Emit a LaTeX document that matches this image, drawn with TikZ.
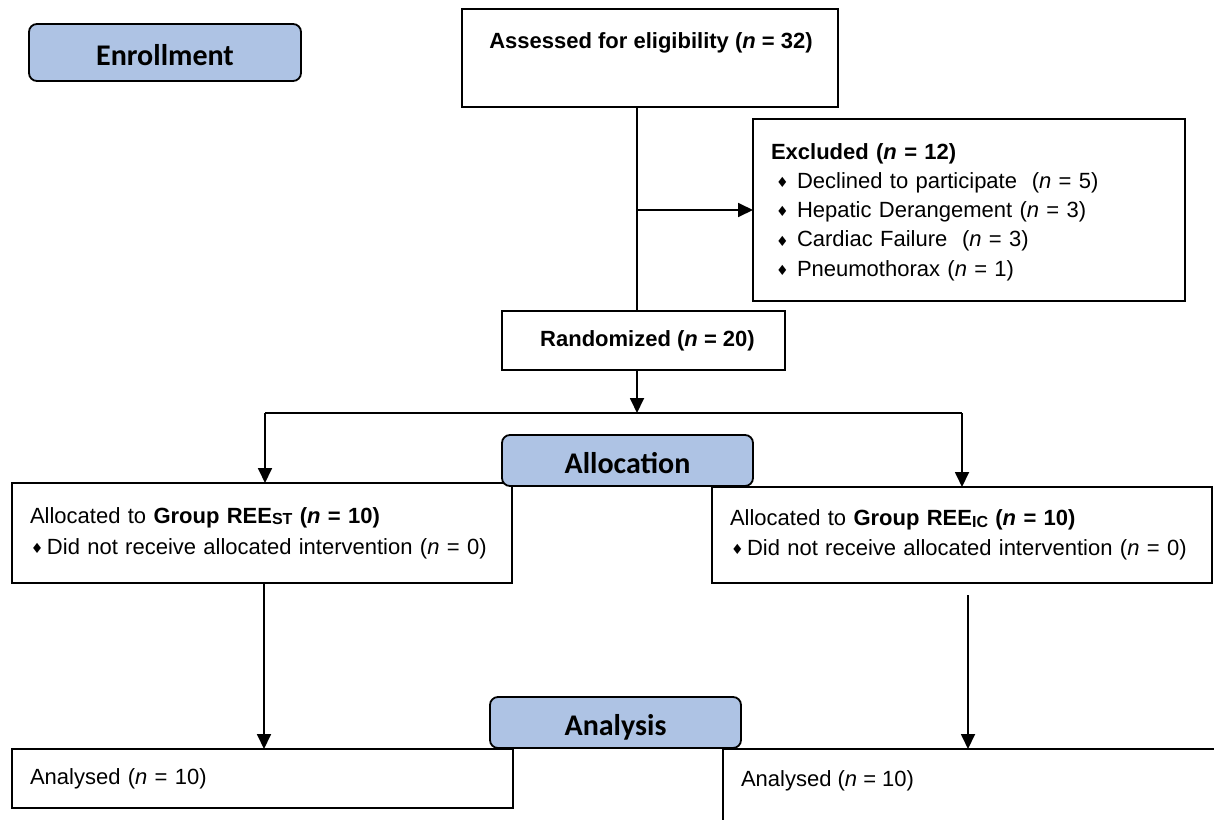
\documentclass[tikz,border=0pt]{standalone}
\usepackage{fontspec}
\setmainfont{Liberation Sans}
\newfontfamily\labelfont{Carlito}
\newfontfamily\symfont{DejaVu Sans}
\usetikzlibrary{arrows.meta}
\definecolor{stageblue}{RGB}{174,195,228}
\newcommand\dia{{\symfont\fontsize{7}{7}\selectfont\raisebox{0.4pt}{♦}}}
\newcommand\itmA[1]{\hspace*{2.5pt}\makebox[10.5pt][l]{\dia}#1}
\newcommand\itmB[1]{\hspace*{0.5pt}\makebox[8pt][l]{\dia}#1}
\newcommand\subsc[1]{{\fontsize{8}{8}\selectfont\raisebox{-0.8pt}{#1}}}
\tikzset{
  box/.style={draw, line width=0.9pt, outer sep=0pt, inner sep=0pt, font=\fontsize{11}{13}\selectfont},
  listbox/.style={box, align=left, inner xsep=9pt, inner ysep=0pt},
  stage/.style={draw, line width=0.9pt, rounded corners=4pt, fill=stageblue, outer sep=0pt, inner sep=0pt,
    text height=12.5pt, text depth=0pt,
    font=\labelfont\bfseries\fontsize{15}{18}\selectfont},
  ln/.style={line width=0.9pt},
  arr/.style={line width=0.9pt, -{Triangle[length=7.5pt,width=7pt]}},
  txt/.style={inner sep=0pt, outer sep=0pt, font=\fontsize{11}{13}\selectfont},
}
\begin{document}
\begin{tikzpicture}[x=0.5pt,y=-0.5pt]
\useasboundingbox (0,0) rectangle (1214,819);
\clip (0,0) rectangle (1214,819);

% boxes
\node[box, minimum width=188pt, minimum height=49pt] (assess) at (650,58) {};
\node[txt, font=\bfseries\fontsize{11}{13}\selectfont] (assesst) at (651,43) {Assessed for eligibility (\textit{n} = 32)};

\node[listbox, text width=198pt, minimum height=91pt, font=\fontsize{11}{14.6}\selectfont] (excl) at (969,210)
  {\rule{0pt}{10pt}\textbf{Excluded (\textit{n} = 12)}\\
   \itmA{Declined to participate\ \ (\textit{n} = 5)}\\
   \itmA{Hepatic Derangement (\textit{n} = 3)}\\
   \itmA{Cardiac Failure\ \ (\textit{n} = 3)}\\
   \itmA{Pneumothorax (\textit{n} = 1)}};

\node[box, minimum width=141.5pt, minimum height=29.5pt, font=\bfseries\fontsize{11}{13}\selectfont] (rand) at (643.5,340.5)
  {\hspace*{4pt}Randomized (\textit{n} = 20)};

\node[listbox, text width=232pt, minimum height=50pt, font=\fontsize{11}{15.5}\selectfont] (alloc1) at (262,533)
  {Allocated to \textbf{Group REE\subsc{ST} (\textit{n} = 10)}\\
   \itmB{Did not receive allocated intervention (\textit{n} = 0)}};

\node[listbox, text width=232pt, minimum height=48pt, font=\fontsize{11}{15}\selectfont] (alloc2) at (962,535)
  {Allocated to \textbf{Group REE\subsc{IC} (\textit{n} = 10)}\\
   \itmB{Did not receive allocated intervention (\textit{n} = 0)}};

\node[listbox, text width=232.5pt, minimum height=29.5pt] (ana1) at (262.5,778.5)
  {Analysed (\textit{n} = 10)};

\node[box, anchor=north west, minimum width=300pt, minimum height=50pt] (ana2) at (723,749) {};
\node[txt, anchor=west] (ana2t) at (741,781) {Analysed (\textit{n} = 10)};

% connectors
\coordinate (trunk) at (637,0);
\draw[ln] (assess.south -| trunk) -- (rand.north -| trunk);
\draw[arr] (trunk |- excl.west) -- (excl.west);
\coordinate (split) at (637,413);
\draw[arr] (rand.south -| trunk) -- (split);
\coordinate (sl) at (265,413);
\coordinate (sr) at (962,413);
\draw[ln] (sl) -- (sr);
\draw[arr] (sl) -- (sl |- alloc1.north);
\draw[arr] (sr) -- (sr |- alloc2.north);
\coordinate (dl) at (264,0);
\draw[arr] (alloc1.south -| dl) -- (ana1.north -| dl);
\coordinate (dr) at (968,595);
\draw[arr] (dr) -- (dr |- ana2.north);

% stage labels
\node[stage, minimum width=136pt, minimum height=28.5pt] (enroll) at (165,52.5) {Enrollment};
\node[stage, minimum width=125.5pt, minimum height=25.5pt] (allocl) at (627.5,460.5) {Allocation};
\node[stage, minimum width=125.5pt, minimum height=25.5pt] (analysis) at (615.5,722.5) {Analysis};
\end{tikzpicture}
\end{document}
